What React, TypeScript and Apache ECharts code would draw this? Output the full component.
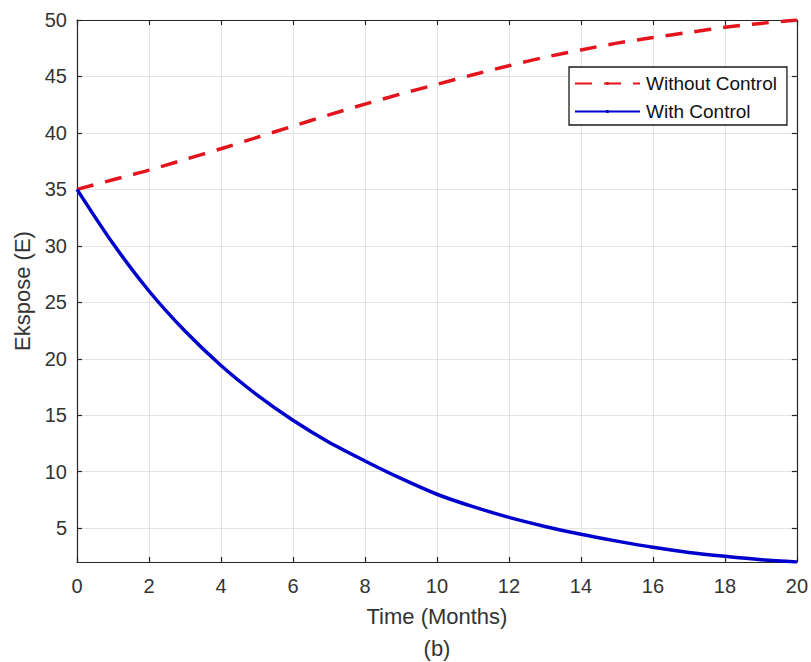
import React, { useEffect, useRef } from "react";
import * as echarts from "echarts";

const timeMonths = [0, 1, 2, 3, 4, 5, 6, 7, 8, 9, 10, 11, 12, 13, 14, 15, 16, 17, 18, 19, 20];
const withoutControl = [35.0, 35.85, 36.7, 37.65, 38.6, 39.6, 40.6, 41.6, 42.55, 43.45, 44.3, 45.15, 45.95, 46.7, 47.35, 47.95, 48.45, 48.9, 49.35, 49.7, 50.0];
const withControl = [35.0, 30.2, 26.0, 22.45, 19.4, 16.8, 14.55, 12.6, 10.95, 9.4, 8.0, 6.9, 5.95, 5.15, 4.45, 3.85, 3.3, 2.85, 2.5, 2.2, 2.0];
const yTicks = [5, 10, 15, 20, 25, 30, 35, 40, 45, 50];
const seriesNames = ["Without Control", "With Control"];

const FONT = "'Liberation Sans', Arial, Helvetica, sans-serif";
const AXIS_COLOR = "#262626";
const TEXT_COLOR = "#333333";
const GRID_COLOR = "#e3e3e3";

export default function App() {
  const ref = useRef<HTMLDivElement>(null);

  useEffect(() => {
    if (!ref.current) return;
    const chart = echarts.init(ref.current, undefined, { renderer: "svg" });
    const pts = (ys: number[]) => timeMonths.map((t, i) => [t, ys[i]]);
    const axisLine = { show: true, onZero: false, lineStyle: { color: AXIS_COLOR, width: 1.2 } };
    const tick = { show: true, inside: true, length: 5, lineStyle: { color: AXIS_COLOR, width: 1.2 } };
    chart.setOption({
      animation: false,
      backgroundColor: "#ffffff",
      textStyle: { fontFamily: FONT },
      grid: { left: 77, right: 14, top: 20, bottom: 100, containLabel: false },
      legend: {
        data: seriesNames,
        orient: "vertical",
        left: 569,
        top: 67,
        itemWidth: 65,
        itemHeight: 4,
        itemGap: 7,
        padding: [6, 10, 3, 5],
        borderColor: "#1a1a1a",
        borderWidth: 1.3,
        backgroundColor: "#ffffff",
        textStyle: { fontFamily: FONT, fontSize: 19, color: "#111111", lineHeight: 21, padding: [0, 0, 0, 1] },
      },
      xAxis: [
        {
          type: "value",
          min: 0,
          max: 20,
          interval: 2,
          name: "Time (Months)",
          nameLocation: "middle",
          nameGap: 43,
          nameTextStyle: { fontFamily: FONT, fontSize: 22, color: TEXT_COLOR },
          axisLine,
          axisTick: tick,
          axisLabel: { fontFamily: FONT, fontSize: 20, color: TEXT_COLOR, margin: 14 },
          splitLine: { show: true, lineStyle: { color: GRID_COLOR, width: 1 } },
        },
        {
          type: "value",
          position: "top",
          min: 0,
          max: 20,
          interval: 2,
          axisLine,
          axisTick: tick,
          axisLabel: { show: false },
          splitLine: { show: false },
        },
      ],
      yAxis: [
        {
          type: "value",
          min: 2,
          max: 50,
          name: "Ekspose (E)",
          nameLocation: "middle",
          nameGap: 44,
          nameTextStyle: { fontFamily: FONT, fontSize: 22, color: TEXT_COLOR },
          axisLine,
          axisTick: { ...tick, customValues: yTicks },
          axisLabel: { fontFamily: FONT, fontSize: 20, color: TEXT_COLOR, margin: 10, customValues: yTicks },
          splitLine: { show: true, lineStyle: { color: GRID_COLOR, width: 1 } },
        },
        {
          type: "value",
          position: "right",
          min: 2,
          max: 50,
          axisLine,
          axisTick: { ...tick, customValues: yTicks },
          axisLabel: { show: false, customValues: yTicks },
          splitLine: { show: false },
        },
      ],
      series: [
        {
          name: seriesNames[0],
          type: "line",
          data: pts(withoutControl),
          smooth: 0.3,
          symbol: "none",
          lineStyle: { color: "#e3141c", width: 3.5, type: [17, 12] },
          itemStyle: { color: "#e3141c" },
          z: 3,
        },
        {
          name: seriesNames[1],
          type: "line",
          data: pts(withControl),
          smooth: 0.3,
          symbol: "none",
          lineStyle: { color: "#0000cd", width: 3.5 },
          itemStyle: { color: "#0000cd" },
          z: 4,
        },
      ],
      graphic: [
        {
          type: "text",
          x: 437,
          y: 648,
          style: {
            text: "(b)",
            fontFamily: FONT,
            fontSize: 22,
            fill: TEXT_COLOR,
            textAlign: "center",
            textVerticalAlign: "middle",
          },
        },
      ],
    });
    return () => chart.dispose();
  }, []);

  return (
    <div
      ref={ref}
      style={{ position: "fixed", left: 0, top: 0, width: 811, height: 662, background: "#fff" }}
    />
  );
}
